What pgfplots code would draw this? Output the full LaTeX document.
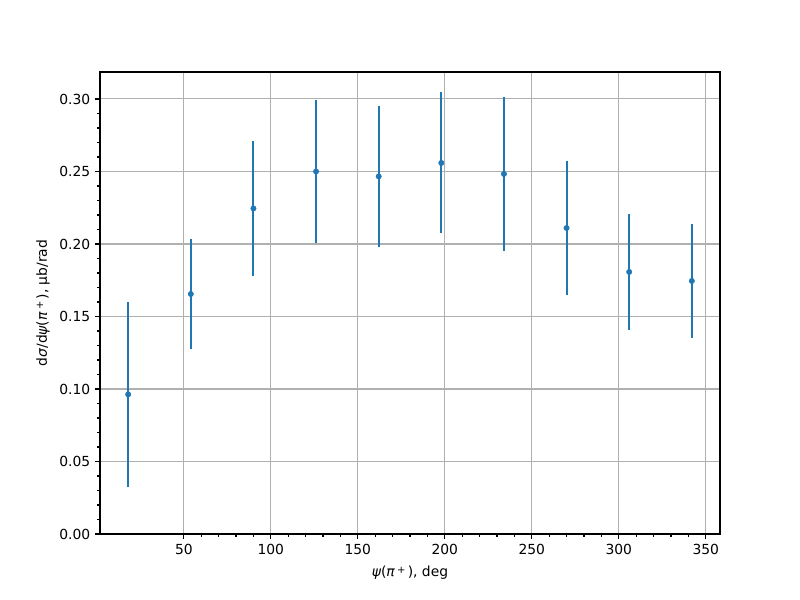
\documentclass[border=0pt]{standalone}
\usepackage{pgfplots}
\pgfplotsset{compat=1.18}
\usepackage{fontspec}
\setmainfont{DejaVu Sans}
\definecolor{mplblue}{HTML}{1F77B4}
\definecolor{mplgrid}{HTML}{B0B0B0}
\begin{document}
\fontsize{10.4}{12.5}\selectfont
\begin{tikzpicture}
\path (0,0) rectangle (600pt,450pt);
\begin{axis}[
  at={(75pt,49.5pt)}, anchor=south west,
  scale only axis,
  width=465pt, height=346.5pt,
  xmin=1.8, xmax=358.2,
  ymin=0, ymax=0.3186,
  xtick={50,100,150,200,250,300,350},
  ytick={0,0.05,0.10,0.15,0.20,0.25,0.30},
  minor x tick num=4,
  minor y tick num=4,
  tick align=outside,
  xtick pos=bottom, ytick pos=left,
  major tick length=3.65pt,
  minor tick length=2.1pt,
  every tick/.style={black, line width=0.83pt},
  axis line style={black, line width=0.83pt},
  grid=major,
  major grid style={mplgrid, line width=0.8pt},
  /pgf/number format/assume math mode=true,
  yticklabel style={/pgf/number format/fixed, /pgf/number format/fixed zerofill, /pgf/number format/precision=2},
  scaled y ticks=false,
  xticklabel style={font=\fontsize{10.4}{12.5}\selectfont},
  yticklabel style={font=\fontsize{10.4}{12.5}\selectfont},
  xlabel={{\itshape ψ}({\itshape π}\,\raisebox{0.5ex}{\fontsize{7.5}{8}\selectfont +}\,), deg},
  ylabel={d{\itshape σ}/d{\itshape ψ}({\itshape π}\,\raisebox{0.5ex}{\fontsize{7.5}{8}\selectfont +}\,), μb/rad},
  xlabel style={font=\fontsize{10.4}{12.5}\selectfont, yshift=-2pt},
  ylabel style={font=\fontsize{10.4}{12.5}\selectfont, yshift=0pt},
]
\addplot[only marks, mark=*, mark size=2pt, color=mplblue,
  mark options={fill=mplblue, draw=mplblue},
  error bars/.cd, y dir=both, y explicit,
  error bar style={line width=1.56pt, mplblue}, error mark=none]
  table[x=x, y=y, y error=e] {
x y e
18 0.0963 0.0637
54 0.1655 0.0378
90 0.2245 0.0465
126 0.2500 0.0490
162 0.2466 0.0485
198 0.2559 0.0486
234 0.2483 0.0533
270 0.2110 0.0461
306 0.1807 0.0402
342 0.1745 0.0392
};
\end{axis}
\end{tikzpicture}
\end{document}
